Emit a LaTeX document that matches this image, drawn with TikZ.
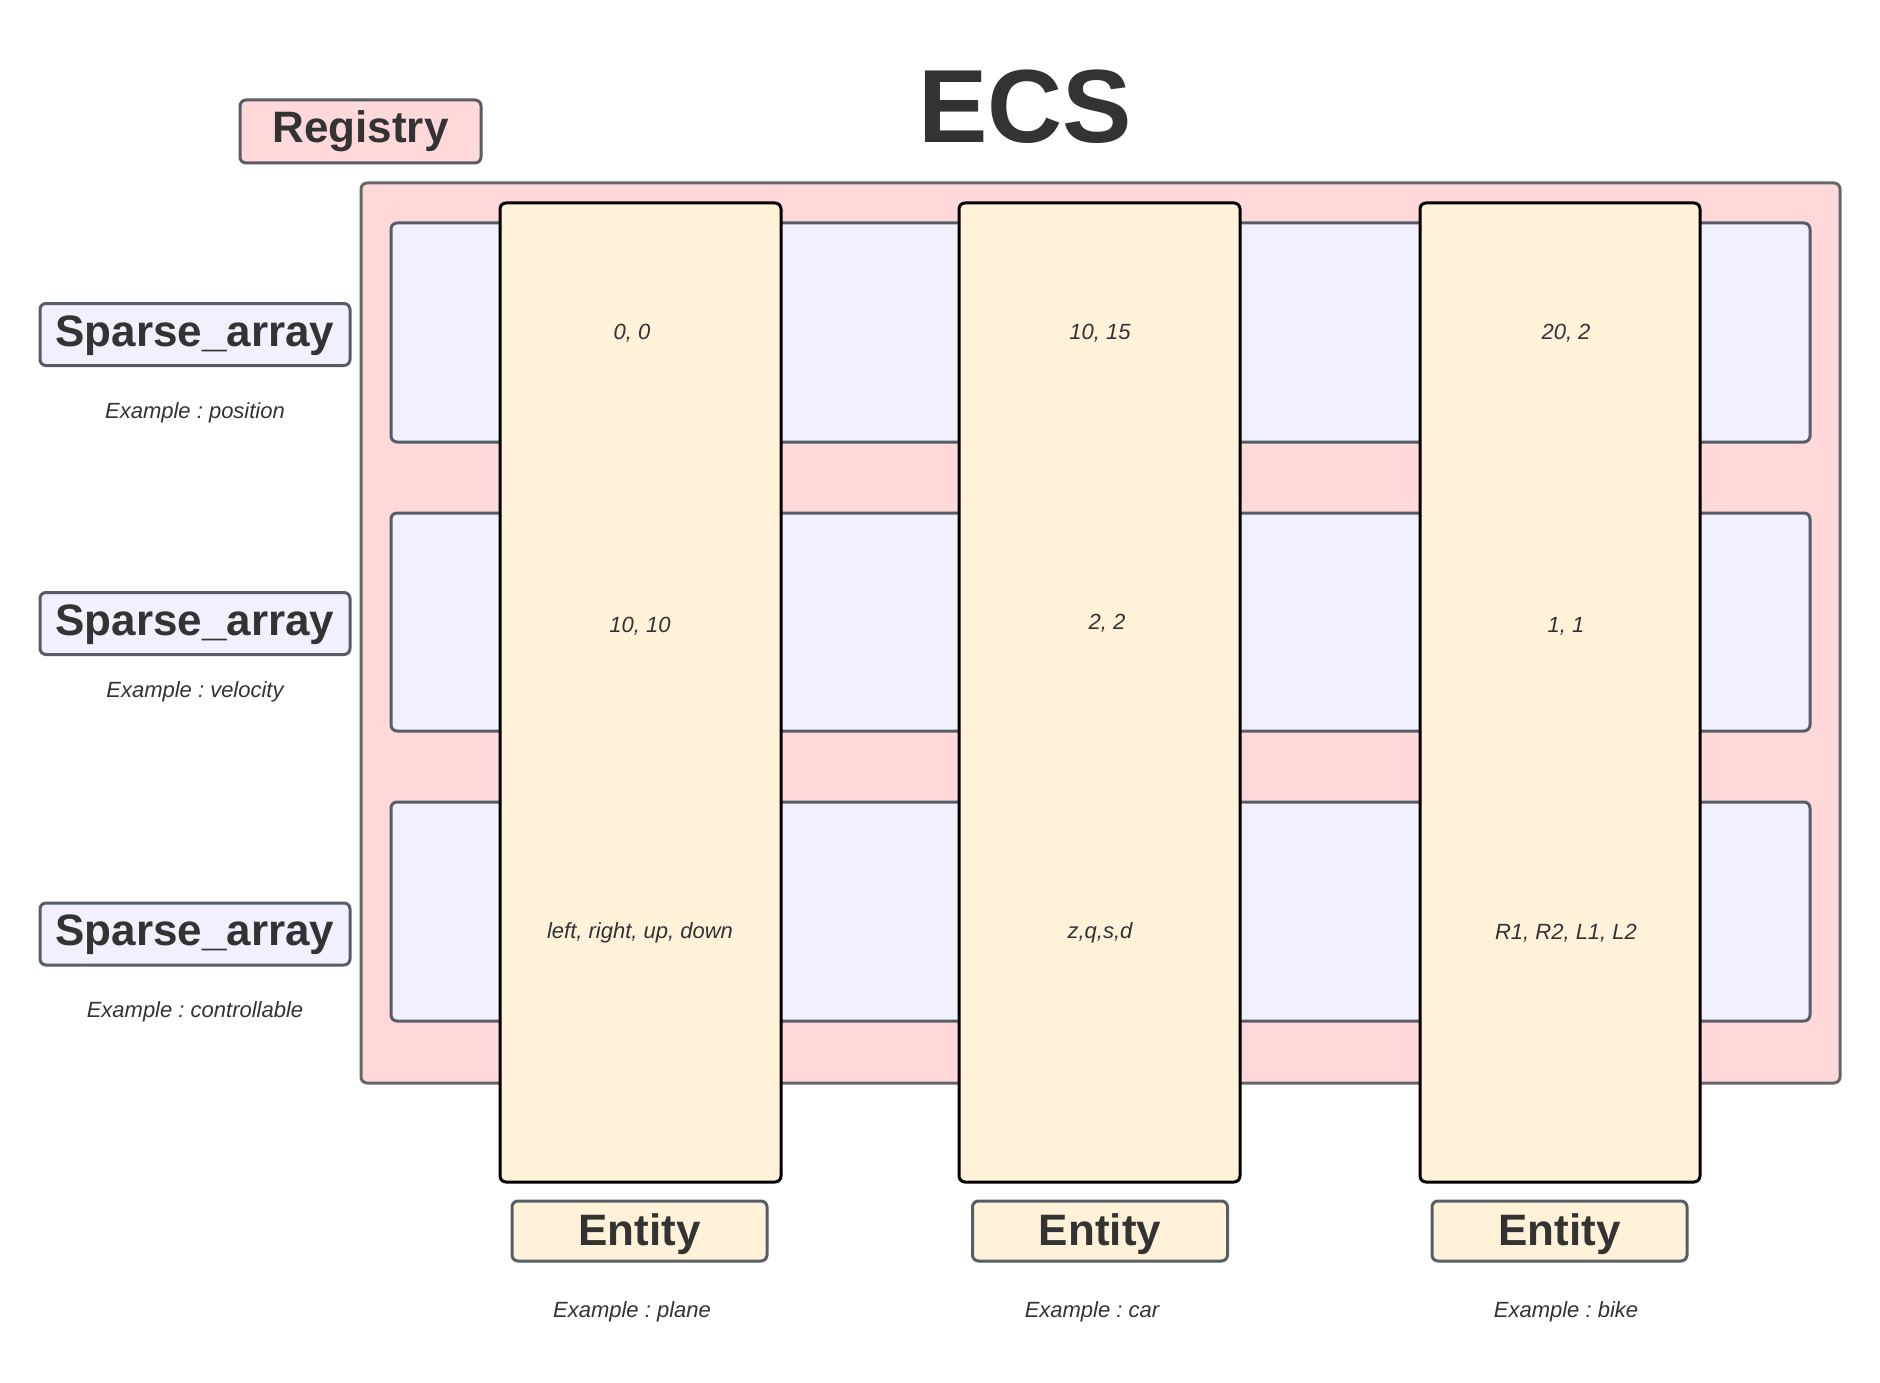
\documentclass[tikz,border=0pt]{standalone}
\usepackage{fontspec}
\setmainfont{Liberation Sans}
\frenchspacing
\definecolor{txt}{HTML}{333333}
\definecolor{pinkf}{HTML}{FFD8DA}
\definecolor{lavf}{HTML}{F0F0FE}
\definecolor{yelf}{HTML}{FFF2D8}
\definecolor{grayb}{HTML}{666666}
\definecolor{slateb}{HTML}{575D66}
\begin{document}
\begin{tikzpicture}[x=1pt,y=-1pt,
  base/.style={rounded corners=6pt, inner sep=0pt, text=txt},
  outerbox/.style={base, draw=grayb, fill=pinkf, line width=3pt},
  rowbox/.style={base, draw=slateb, fill=lavf, line width=3pt},
  colbox/.style={base, draw=black, fill=yelf, line width=3pt},
  labbox/.style={base, draw=slateb, line width=3pt, font=\fontsize{44}{48}\selectfont\bfseries, text depth=0pt, text height=23pt},
  entbox/.style={labbox, fill=yelf, minimum width=255pt, minimum height=60pt, text height=28.5pt},
  sabox/.style={labbox, fill=lavf, minimum width=310pt, minimum height=62pt},
  celltxt/.style={text=txt, font=\fontsize{22}{25}\selectfont\itshape, inner sep=0pt},
  extxt/.style={text=txt, font=\fontsize{22}{26}\selectfont\itshape, inner sep=0pt}
]
\useasboundingbox[fill=white] (0,0) rectangle (1880,1383);

% title
\node[text=txt, font=\fontsize{104}{110}\selectfont\bfseries, inner sep=0pt] (title) at (1025,107) {ECS};

% registry
\node[outerbox, minimum width=1479pt, minimum height=900pt] (reg) at (1100.5,633) {};
\node[labbox, fill=pinkf, minimum width=241pt, minimum height=63pt] (reglab) at (360.5,131.5) {Registry};

% sparse arrays (rows)
\node[rowbox, minimum width=1419pt, minimum height=219pt] (row1) at (1100.5,332.5) {};
\node[rowbox, minimum width=1419pt, minimum height=218pt] (row2) at (1100.5,622) {};
\node[rowbox, minimum width=1419pt, minimum height=219pt] (row3) at (1100.5,911.5) {};

% entities (columns)
\node[colbox, minimum width=281pt, minimum height=979pt] (col1) at (640.5,692.5) {};
\node[colbox, minimum width=281pt, minimum height=979pt] (col2) at (1099.5,692.5) {};
\node[colbox, minimum width=280pt, minimum height=979pt] (col3) at (1560,692.5) {};

% cell values
\node[celltxt] (c11) at (632,333) {0, 0};
\node[celltxt] (c12) at (640,626) {10, 10};
\node[celltxt] (c13) at (640,933) {left, right, up, down};
\node[celltxt] (c21) at (1100,333) {10, 15};
\node[celltxt] (c22) at (1107,623) {2, 2};
\node[celltxt] (c23) at (1100,933) {z,q,s,d};
\node[celltxt] (c31) at (1566,333) {20, 2};
\node[celltxt] (c32) at (1566,626) {1, 1};
\node[celltxt] (c33) at (1566,933) {R1, R2, L1, L2};

% sparse array labels
\node[sabox] (sa1) at (195,334.5) {Sparse\_array};
\node[sabox] (sa2) at (195,623.5) {Sparse\_array};
\node[sabox] (sa3) at (195,934) {Sparse\_array};
\node[extxt] (ex1) at (195,413) {Example : position};
\node[extxt] (ex2) at (195,692) {Example : velocity};
\node[extxt] (ex3) at (195,1012) {Example : controllable};

% entity labels
\node[entbox] (en1) at (639.5,1231) {Entity};
\node[entbox] (en2) at (1100,1231) {Entity};
\node[entbox] (en3) at (1559.5,1231) {Entity};
\node[extxt] (ee1) at (632,1312) {Example : plane};
\node[extxt] (ee2) at (1092,1312) {Example : car};
\node[extxt] (ee3) at (1566,1312) {Example : bike};
\end{tikzpicture}
\end{document}
